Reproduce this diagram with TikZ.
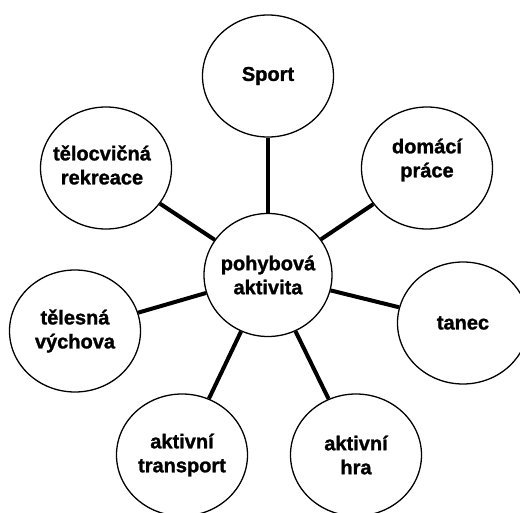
\documentclass[tikz,border=0pt]{standalone}
\usepackage{fontspec}
\setmainfont{Liberation Sans}
\newfontfamily\heavyfont{Liberation Sans Bold}[FakeBold=1.3]
\usepackage{tikz}
\usetikzlibrary{shapes.geometric}

\begin{document}
\begin{tikzpicture}[
    x=1pt, y=-1pt,
    bubble/.style={
        ellipse,
        draw=black,
        line width=1.3pt,
        fill=white,
        inner sep=0pt,
        minimum width=131pt,
        minimum height=122pt
    },
    txt/.style={font=\fontsize{20}{24}\selectfont\heavyfont, align=center, inner sep=0pt},
    spoke/.style={line width=4pt}
]
\useasboundingbox (0,0) rectangle (520,513);

% centre
\node[bubble, minimum width=128pt, minimum height=123pt, label={[txt]center:pohybová\\aktivita}] (pa) at (268,275) {};

% satellites
\node[bubble, label={[txt]center:Sport}] (sport) at (268,76) {};
\node[bubble, label={[txt, xshift=-4pt, yshift=3pt]center:tělocvičná\\rekreace}] (rek) at (106,168) {};
\node[bubble, label={[txt, yshift=8pt]center:domácí\\práce}] (dom) at (427,168) {};
\node[bubble, label={[txt]center:tělesná\\výchova}] (tv) at (75,331) {};
\node[bubble, label={[txt]center:tanec}] (tan) at (463,323) {};
\node[bubble, label={[txt]center:aktivní\\transport}] (tra) at (182,455) {};
\node[bubble, label={[txt]center:aktivní\\hra}] (hra) at (356,455) {};

\draw[spoke] (pa) -- (sport);
\draw[spoke] (pa) -- (rek);
\draw[spoke] (pa) -- (dom);
\draw[spoke] (pa) -- (tv);
\draw[spoke] (pa) -- (tan);
\draw[spoke] (pa) -- (tra);
\draw[spoke] (pa) -- (hra);

\end{tikzpicture}
\end{document}
